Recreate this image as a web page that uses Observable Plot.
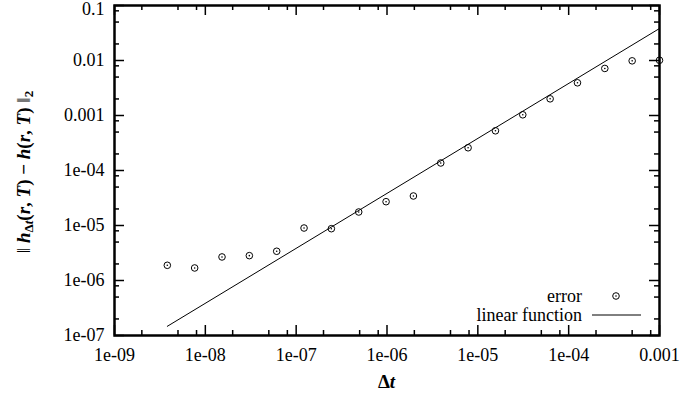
<!DOCTYPE html>
<html>
<head>
<meta charset="utf-8">
<script src="https://cdn.jsdelivr.net/npm/d3@7"></script>
<script src="https://cdn.jsdelivr.net/npm/@observablehq/plot@0.6"></script>
<style>
  html, body { margin: 0; padding: 0; background: white; }
  #chart { width: 684px; height: 398px; }
</style>
</head>
<body>
<div id="chart"></div>
<script>
// ---- data ----
const dtValues = [3.815e-9, 7.629e-9, 1.526e-8, 3.052e-8, 6.104e-8, 1.221e-7, 2.441e-7, 4.883e-7, 9.766e-7, 1.953e-6, 3.906e-6, 7.813e-6, 1.563e-5, 3.125e-5, 6.25e-5, 1.25e-4, 2.5e-4, 5e-4, 1e-3];
const errorValues = [1.89e-6, 1.69e-6, 2.68e-6, 2.83e-6, 3.40e-6, 9.0e-6, 8.75e-6, 1.76e-5, 2.71e-5, 3.44e-5, 1.37e-4, 2.59e-4, 5.27e-4, 1.03e-3, 2.01e-3, 3.93e-3, 7.17e-3, 9.86e-3, 1.01e-2];
const lineX = [3.815e-9, 1e-3];
const lineY = [1.47e-7, 0.0382];

const xTicks = [1e-9, 1e-8, 1e-7, 1e-6, 1e-5, 1e-4, 1e-3];
const xTickLabels = ["1e-09", "1e-08", "1e-07", "1e-06", "1e-05", "1e-04", "0.001"];
const yTicks = [1e-7, 1e-6, 1e-5, 1e-4, 1e-3, 1e-2, 1e-1];
const yTickLabels = ["1e-07", "1e-06", "1e-05", "1e-04", "0.001", "0.01", "0.1"];
const minorMultipliers = [2, 5, 8];

// ---- build tables ----
const errorData = dtValues.map((d, i) => ({dt: d, err: errorValues[i]}));
const lineData = lineX.map((d, i) => ({dt: d, val: lineY[i]}));
const xMinor = xTicks.slice(0, -1).flatMap(t => minorMultipliers.map(m => t * m));
const yMinor = yTicks.slice(0, -1).flatMap(t => minorMultipliers.map(m => t * m));

const W = 684, H = 398;
const mL = 114, mR = 25, mT = 5, mB = 63;
const pW = W - mL - mR, pH = H - mT - mB;
const majorLen = 10, minorLen = 5;
const tickStyle = {stroke: "black", strokeWidth: 1.5};

const chart = Plot.plot({
  width: W,
  height: H,
  marginLeft: mL,
  marginRight: mR,
  marginTop: mT,
  marginBottom: mB,
  style: {fontFamily: "Liberation Serif", fontSize: "18px", background: "white", color: "black"},
  x: {type: "log", domain: [1e-9, 1e-3]},
  y: {type: "log", domain: [1e-7, 0.1]},
  marks: [
    // ticks, drawn inward on all four sides
    Plot.tickX(xTicks, {x: d => d, insetTop: pH - majorLen, ...tickStyle}),
    Plot.tickX(xTicks, {x: d => d, insetBottom: pH - majorLen, ...tickStyle}),
    Plot.tickX(xMinor, {x: d => d, insetTop: pH - minorLen, ...tickStyle}),
    Plot.tickX(xMinor, {x: d => d, insetBottom: pH - minorLen, ...tickStyle}),
    Plot.tickY(yTicks, {y: d => d, insetRight: pW - majorLen, ...tickStyle}),
    Plot.tickY(yTicks, {y: d => d, insetLeft: pW - majorLen, ...tickStyle}),
    Plot.tickY(yMinor, {y: d => d, insetRight: pW - minorLen, ...tickStyle}),
    Plot.tickY(yMinor, {y: d => d, insetLeft: pW - minorLen, ...tickStyle}),
    Plot.axisX({ticks: xTicks, tickFormat: d => xTickLabels[xTicks.indexOf(d)], tickSize: 0, tickPadding: 13, label: null}),
    Plot.axisY({ticks: yTicks, tickFormat: d => yTickLabels[yTicks.indexOf(d)], tickSize: 0, tickPadding: 10, label: null}),
    Plot.line(lineData, {x: "dt", y: "val", stroke: "black", strokeWidth: 1}),
    Plot.dot(errorData, {x: "dt", y: "err", r: 3.3, stroke: "black", strokeWidth: 1, fill: "none"}),
    Plot.dot(errorData, {x: "dt", y: "err", r: 0.8, fill: "black", stroke: "none"}),
    Plot.frame({stroke: "black", strokeWidth: 2.5})
  ]
});
document.getElementById("chart").appendChild(chart);

const svg = d3.select(chart);
const font = "Liberation Serif";

// nudge the top y tick label ("0.1") slightly down so it stays inside the picture, as in the reference
svg.selectAll("text").filter(function() { return this.textContent === yTickLabels[yTickLabels.length - 1]; })
  .each(function() {
    const t = d3.select(this);
    const prev = t.attr("transform") || "";
    t.attr("transform", prev + " translate(0,4)");
  });

// x axis title: Δt
const xt = svg.append("text")
  .attr("x", mL + pW / 2).attr("y", 388)
  .attr("text-anchor", "middle")
  .attr("font-family", font).attr("font-size", 19).attr("font-weight", "bold")
  .attr("fill", "black");
xt.append("tspan").text("Δ");
xt.append("tspan").attr("font-style", "italic").text("t");

// y axis title: ‖ h_Δt(r,T) − h(r,T) ‖₂
const yt = svg.append("text")
  .attr("transform", `translate(30,172) rotate(-90)`)
  .attr("text-anchor", "middle")
  .attr("font-family", font).attr("font-size", 19)
  .attr("fill", "black");
yt.append("tspan").text("‖ ");
yt.append("tspan").attr("font-weight", "bold").attr("font-style", "italic").text("h");
yt.append("tspan").attr("font-weight", "bold").attr("font-size", 13).attr("dy", 3).text("Δ");
yt.append("tspan").attr("font-weight", "bold").attr("font-style", "italic").attr("font-size", 13).text("t");
yt.append("tspan").attr("font-weight", "bold").attr("dy", -3).text("(");
yt.append("tspan").attr("font-weight", "bold").attr("font-style", "italic").text("r");
yt.append("tspan").attr("font-weight", "bold").text(", ");
yt.append("tspan").attr("font-weight", "bold").attr("font-style", "italic").text("T");
yt.append("tspan").attr("font-weight", "bold").text(") − ");
yt.append("tspan").attr("font-weight", "bold").attr("font-style", "italic").text("h");
yt.append("tspan").attr("font-weight", "bold").text("(");
yt.append("tspan").attr("font-weight", "bold").attr("font-style", "italic").text("r");
yt.append("tspan").attr("font-weight", "bold").text(", ");
yt.append("tspan").attr("font-weight", "bold").attr("font-style", "italic").text("T");
yt.append("tspan").attr("font-weight", "bold").text(")");
yt.append("tspan").text(" ‖");
yt.append("tspan").attr("font-weight", "bold").attr("font-size", 13).attr("dy", 3).text("2");

// legend
const lg = svg.append("g").attr("font-family", font).attr("font-size", 18).attr("fill", "black");
lg.append("text").attr("x", 582).attr("y", 296).attr("dy", "0.32em").attr("text-anchor", "end").text("error");
lg.append("circle").attr("cx", 616).attr("cy", 296).attr("r", 3.3).attr("fill", "none").attr("stroke", "black");
lg.append("circle").attr("cx", 616).attr("cy", 296).attr("r", 0.8).attr("fill", "black");
lg.append("text").attr("x", 582).attr("y", 315).attr("dy", "0.32em").attr("text-anchor", "end").text("linear function");
lg.append("line").attr("x1", 592).attr("x2", 641).attr("y1", 315).attr("y2", 315).attr("stroke", "black").attr("stroke-width", 1);
</script>
</body>
</html>
